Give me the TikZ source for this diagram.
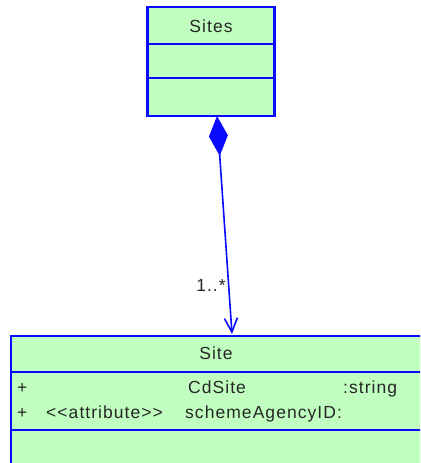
\documentclass[tikz,border=0pt]{standalone}
\usepackage{fontspec}
\setmainfont[LetterSpace=6]{Liberation Sans}
\usetikzlibrary{arrows.meta}
\definecolor{umlfill}{RGB}{192,255,192}
\definecolor{umlblue}{RGB}{10,10,255}
\tikzset{
  classbox/.style={draw=umlblue, fill=umlfill, line width=2.2bp, inner sep=0pt},
  divider/.style={draw=umlblue, line width=2.2bp},
  lbl/.style={font=\fontsize{17.5bp}{19bp}\selectfont, inner sep=0pt, text=black!85},
  assoc/.style={draw=umlblue, line width=1.6bp}
}
\begin{document}
\begin{tikzpicture}[x=1bp,y=-1bp]
\useasboundingbox (0,0) rectangle (420,463);
\clip (0,0) rectangle (420,463);
% Sites class
\node[classbox, minimum width=127bp, minimum height=109bp] (sites) at (211,61.5) {};
\draw[divider] (148,44) -- (275,44);
\draw[divider] (148,78) -- (275,78);
\node[lbl] (sitesname) at (211,26) {Sites};
% Site class
\node[classbox, minimum width=430bp, minimum height=160bp, anchor=north west] (site) at (10,335) {};
\draw[divider] (10,372) -- (425,372);
\draw[divider] (10,430) -- (425,430);
\node[lbl] (sitename) at (216,353) {Site};
\node[lbl, anchor=base west] (p1) at (17,393) {+};
\node[lbl, anchor=base west] (a1) at (188,393) {CdSite};
\node[lbl, anchor=base west] (t1) at (343,393) {:string};
\node[lbl, anchor=base west] (p2) at (17,418) {+};
\node[lbl, anchor=base west] (s2) at (46,418) {{<}{<}attribute{>}{>}};
\node[lbl, anchor=base west] (a2) at (185,418) {schemeAgencyID:};
% association
\coordinate (dstart) at (217,116);
\coordinate (dend) at (232,334);
\draw[assoc, {Diamond[length=40bp,width=19bp,fill=umlblue]}-{Straight Barb[length=14bp,width=13bp]}] (dstart) -- (dend);
\node[lbl] (mult) at (211,285) {1..*};
\end{tikzpicture}
\end{document}
